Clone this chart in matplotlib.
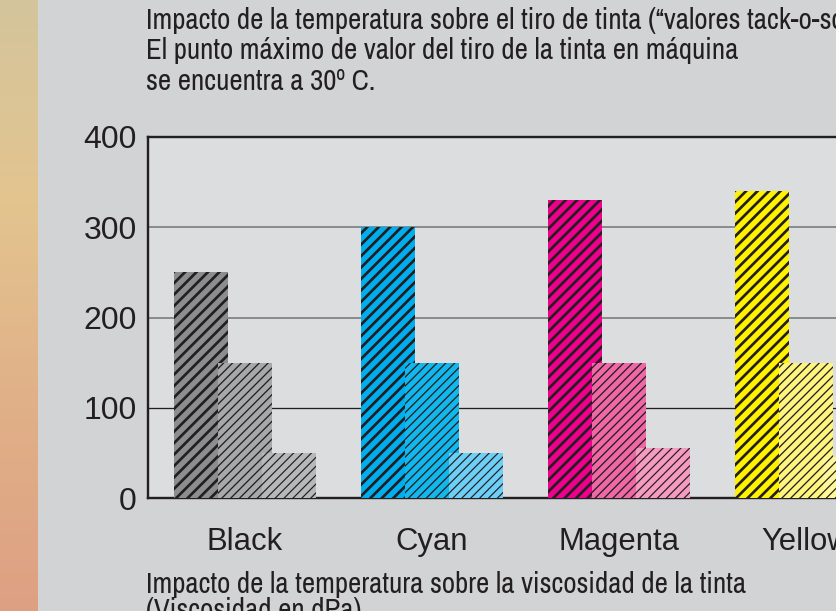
import matplotlib
matplotlib.use("Agg")
import matplotlib.pyplot as plt
import numpy as np
from matplotlib import font_manager
from matplotlib.colors import LinearSegmentedColormap

# tinta: tiro vs temperatura

DPI = 240
W, H = 836, 611


def pt(px):
    # pixels -> points at the chosen dpi
    return px * 72.0 / DPI


categories = ["Black", "Cyan", "Magenta", "Yellow"]
tack_high = [250, 300, 330, 340]
tack_mid = [150, 150, 150, 150]
tack_low = [50, 50, 55, 45]
y_ticks = [0, 100, 200, 300, 400]

colors_high = ["#8c8d8f", "#00aeef", "#ec008c", "#fff200"]
colors_mid = ["#a7a8aa", "#12b7ee", "#f067a6", "#fff47e"]
colors_low = ["#b7b8ba", "#6dcff6", "#f59ac1", "#fff799"]

top_lines = [
    "Impacto de la temperatura sobre el tiro de tinta (\u201cvalores tack-o-scope\u201d)",
    "El punto máximo de valor del tiro de la tinta en máquina",
    "se encuentra a 30º C.",
]
bottom_lines = [
    "Impacto de la temperatura sobre la viscosidad de la tinta",
    "(Viscosidad en dPa)",
]

# look for a condensed face for the captions
narrow = None
for f in font_manager.fontManager.ttflist:
    if ("Condensed" in f.name or "Narrow" in f.name) and "Bold" not in f.name:
        narrow = f.name
        break
if narrow is None:
    names = {f.name for f in font_manager.fontManager.ttflist}
    narrow = "Roboto" if "Roboto" in names else "DejaVu Sans"
plain = "Liberation Sans"

ink = "#231f20"
fig_bg = "#d1d3d4"
ax_bg = "#dcdddf"

fig = plt.figure(figsize=(W / DPI, H / DPI), dpi=DPI, facecolor=fig_bg)

# left decorative gradient strip
strip = fig.add_axes([0, 0, 38 / W, 1])
grad = LinearSegmentedColormap.from_list(
    "strip", ["#d4c59c", "#e3c48f", "#e0b088", "#dea083"]
)
strip.imshow(np.linspace(0, 1, 256).reshape(-1, 1), aspect="auto", cmap=grad)
strip.set_axis_off()

# main chart axes (runs past the right edge like the original)
ax_left, ax_right = 148, 905
ax_top, ax_bottom = 137, 498
ax = fig.add_axes([
    ax_left / W,
    1 - ax_bottom / H,
    (ax_right - ax_left) / W,
    (ax_bottom - ax_top) / H,
])
ax.set_facecolor(ax_bg)

group_px = 187.0
bar_w = 54 / group_px
step = 44 / group_px
x0 = -(245 - ax_left) / group_px
ax.set_xlim(x0, x0 + (ax_right - ax_left) / group_px)
ax.set_ylim(0, 400)

x = np.arange(len(categories))

series = [
    (tack_high, colors_high, "///////", 2.7, -step),
    (tack_mid, colors_mid, "/////////", 1.3, 0),
    (tack_low, colors_low, "/////////", 1.2, step),
]

for values, cols, hatch, hlw, off in series:
    plt.rcParams["hatch.linewidth"] = pt(hlw)
    bars = ax.bar(
        x + off, values, width=bar_w, color=cols,
        edgecolor=ink, linewidth=0, hatch=hatch, zorder=3
    )
    for b in bars:
        if hasattr(b, "set_hatch_linewidth"):
            b.set_hatch_linewidth(pt(hlw))

ax.set_yticks(y_ticks)
ax.set_yticklabels([str(v) for v in y_ticks])
ax.set_xticks(x)
ax.set_xticklabels(categories)

ax.tick_params(axis="y", length=0, pad=pt(11), labelsize=pt(32),
               labelcolor=ink)
ax.tick_params(axis="x", length=0, pad=pt(29), labelsize=pt(31),
               labelcolor=ink)
for lab in ax.get_xticklabels() + ax.get_yticklabels():
    lab.set_fontfamily(plain)

ax.set_axisbelow(True)
ax.grid(axis="y", linewidth=pt(1.6))
for val, line in zip(y_ticks, ax.get_ygridlines()):
    line.set_color(ink if val == 100 else "#77787b")
    if val == 100:
        line.set_linewidth(pt(1.3))

for side in ["left", "top", "bottom"]:
    ax.spines[side].set_color(ink)
    ax.spines[side].set_linewidth(pt(2.4))
ax.spines["right"].set_visible(False)

# captions: size chosen so the second line is as wide as in the original
caption_size = pt(26)
probe = fig.text(0, 0, top_lines[1], fontsize=caption_size, family=narrow)
fig.canvas.draw()
w_px = probe.get_window_extent().width
probe.remove()
caption_size = caption_size * 588.0 / w_px

for i, line in enumerate(top_lines):
    fig.text(146 / W, 1 - (21 + 30 * i) / H, line, ha="left", va="center",
             fontsize=caption_size, family=narrow, color=ink)

for i, line in enumerate(bottom_lines):
    fig.text(146 / W, 1 - (584 + 26 * i) / H, line, ha="left", va="center",
             fontsize=caption_size, family=narrow, color=ink)

fig.savefig("out.png", dpi=DPI, facecolor=fig_bg)
